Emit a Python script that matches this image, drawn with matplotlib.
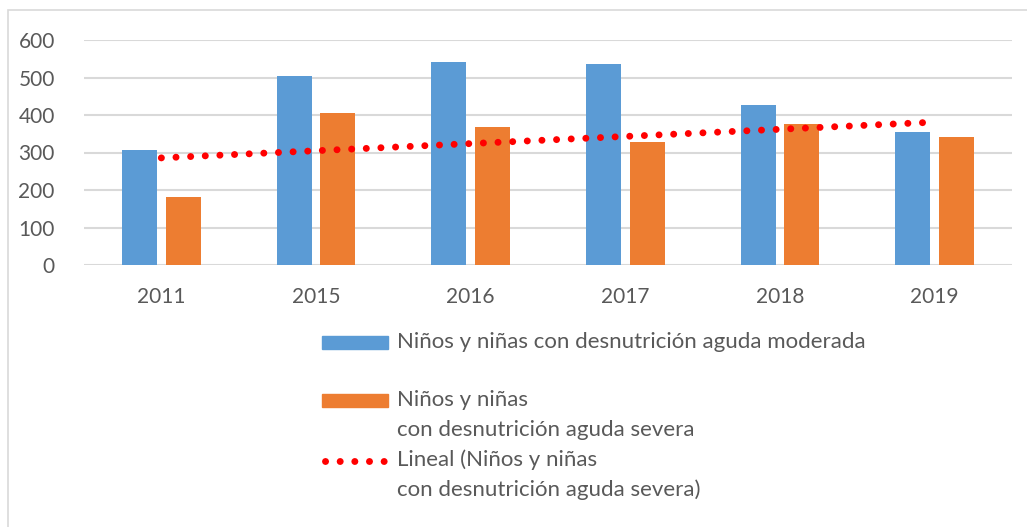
import numpy as np
import matplotlib
matplotlib.use("Agg")
import matplotlib.pyplot as plt
from matplotlib.patches import Rectangle
from matplotlib.lines import Line2D

years = ["2011", "2015", "2016", "2017", "2018", "2019"]
moderada = [308, 504, 542, 536, 427, 356]
severa = [181, 406, 368, 329, 375, 341]
yticks = [0, 100, 200, 300, 400, 500, 600]

label_mod = "Niños y niñas con desnutrición aguda moderada"
label_sev = "Niños y niñas\ncon desnutrición aguda severa"
label_lin = "Lineal (Niños y niñas\ncon desnutrición aguda severa)"

BLUE = "#5B9BD5"
ORANGE = "#ED7D31"
RED = "#FF0000"
GRID = "#D9D9D9"
TEXT = "#595959"

plt.rcParams["font.family"] = ["Lato", "DejaVu Sans"]

W, H = 1027, 527
fig = plt.figure(figsize=(W / 100, H / 100), dpi=100)
ax = fig.add_axes([84 / W, 1 - 265 / H, 928 / W, 225 / H])

x = np.arange(len(years))
bw = 0.226
off = 0.142
ax.bar(x - off, moderada, width=bw, color=BLUE, zorder=2)
ax.bar(x + off, severa, width=bw, color=ORANGE, zorder=2)

# linear trend of the severe series
coef = np.polyfit(x, severa, 1)
xt = np.array([x[0], x[-1]])
DOTS = (0, (0.01, 2.1))
ax.plot(xt, np.polyval(coef, xt), color=RED, lw=5,
        linestyle=DOTS, dash_capstyle="round", zorder=3)

ax.set_xlim(-0.5, len(years) - 0.5)
ax.set_ylim(0, 600)
ax.set_yticks(yticks)
ax.set_xticks(x)
ax.set_xticklabels(years)
ax.tick_params(length=0, labelsize=15, colors=TEXT)
ax.tick_params(axis="y", pad=21)
ax.tick_params(axis="x", pad=16)
ax.grid(axis="y", color=GRID, lw=1.5, zorder=0)
for s in ax.spines.values():
    s.set_visible(False)

# outer chart border
fig.add_artist(Rectangle((8 / W, -0.1), 1.2, 1 - 10 / H + 0.1,
                         transform=fig.transFigure, fill=False,
                         edgecolor=GRID, lw=1.2))


# legend, drawn by hand so handles line up with the first text line
def fy(py):
    return 1 - py / H


def legend_text(py, label):
    for i, line in enumerate(label.split("\n")):
        fig.text(tx, fy(py + 29.5 * i), line, fontsize=16, color=TEXT,
                 va="center")


lx0, lx1, tx = 322 / W, 388 / W, 397 / W
fig.add_artist(Rectangle((lx0, fy(349)), lx1 - lx0, 13 / H,
                         transform=fig.transFigure, color=BLUE))
fig.add_artist(Rectangle((lx0, fy(407)), lx1 - lx0, 13 / H,
                         transform=fig.transFigure, color=ORANGE))
fig.add_artist(Line2D([lx0 + 3 / W, lx1 - 3 / W], [fy(461), fy(461)],
                      transform=fig.transFigure, color=RED, lw=5,
                      linestyle=DOTS, dash_capstyle="round"))
legend_text(342, label_mod)
legend_text(400, label_sev)
legend_text(460, label_lin)

fig.savefig("out.png", dpi=100)
